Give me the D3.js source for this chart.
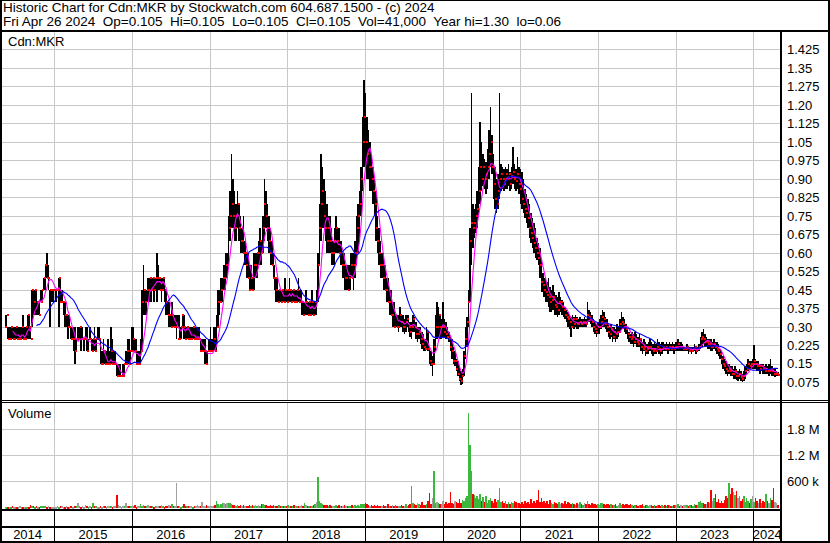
<!DOCTYPE html>
<html><head><meta charset="utf-8">
<script src="https://cdn.jsdelivr.net/npm/d3@7"></script>
<style>body{margin:0;background:#fff}svg{display:block}text{font-family:"Liberation Sans",Arial,sans-serif}</style>
</head><body><svg id="c" width="830" height="543"></svg>
<script>
// weekly highs / lows / closes, May 2014 .. Apr 26 2024
const highs=[
.35,.35,.30,.30,.30,.30,.30,.30,.30,.30,.30,.30,.35,.30,.30,.35,.35,.30,.45,.45,.45,.45,.40,.40,.45,.45,.50,.55,.60,.55,.45,.45,.45,
.45,.45,.45,.50,.50,.45,.40,.40,.35,.35,.35,.30,.30,.30,.30,.25,.30,.30,.30,.30,.25,.30,.30,.25,.30,.25,.25,.30,.25,.30,.30,.25,.20,.25,.20,.20,.25,.20,.30,.25,.20,.20,.15,.15,.15,.10,.15,.15,.20,.25,.25,.20,
.30,.30,.25,.25,.20,.20,.25,.45,.55,.45,.45,.50,.50,.50,.50,.50,.50,.60,.55,.50,.50,.50,.50,.45,.40,.40,.35,.40,.35,.35,.35,.35,.35,.30,.35,.35,.30,.30,.30,.30,.30,.30,.30,.30,.30,.30,.25,.25,.25,.25,.20,.20,.25,
.30,.25,.30,.30,.35,.45,.45,.50,.50,.55,.60,.60,.75,.85,1.0,.90,.85,.80,.85,.80,.75,.70,.75,.65,.60,.60,.55,.55,.50,.60,.60,.60,.65,.70,.65,.75,.90,.85,.80,.75,.70,.65,.60,.55,.50,.50,.45,.45,.45,.45,.50,
.45,.45,.50,.45,.45,.45,.45,.45,.50,.45,.45,.40,.40,.45,.40,.40,.40,.45,.40,.40,.45,.60,.80,1.0,.95,.90,.85,.80,.75,.75,.70,.65,.70,.75,.70,.70,.65,.65,.60,.60,.55,.55,.55,.60,.60,.60,.65,.75,.80,.85,.95,1.15,1.30,
1.25,1.15,1.10,1.05,1.00,.95,.90,.85,.75,.70,.65,.60,.60,.55,.50,.50,.45,.45,.40,.40,.35,.35,.35,.38,.35,.35,.33,.35,.35,.35,.32,.32,.35,.34,.32,.30,.30,.30,.28,.27,.25,.30,.28,.22,.20,.18,.25,.35,.40,.38,.35,.33,
.40,.33,.32,.30,.28,.26,.25,.22,.20,.17,.16,.14,.12,.13,.20,.30,.34,.45,.70,1.25,.80,.78,.80,.85,.95,1.13,1.05,1.00,.98,.97,1.02,1.10,1.19,1.08,1.00,.95,.90,.92,1.25,.96,.95,.94,.95,.94,.96,.93,.95,1.03,.96,.94,.99,.95,.94,
.93,.90,.86,.84,.82,.80,.76,.74,.72,.70,.66,.64,.62,.57,.52,.50,.50,.48,.50,.46,.45,.47,.44,.43,.42,.44,.42,.41,.40,.38,.37,.36,.35,.34,.35,.34,.35,.34,.33,.34,.33,.33,.34,.33,.40,.37,.36,.35,.33,.32,.31,.32,
.33,.35,.37,.36,.34,.33,.31,.30,.31,.30,.30,.29,.31,.30,.33,.36,.34,.33,.31,.29,.28,.27,.28,.27,.28,.27,.26,.27,.25,.24,.25,.24,.23,.24,.25,.24,.23,.24,.23,.25,.24,.23,.24,.24,.23,.24,.23,.24,.23,.24,.23,.24,
.24,.25,.24,.24,.23,.22,.22,.23,.22,.22,.22,.22,.23,.22,.22,.23,.26,.28,.29,.27,.26,.25,.25,.25,.24,.25,.24,.24,.23,.21,.20,.18,.17,.16,.15,.15,.14,.14,.13,.14,.13,.12,.13,.12,.11,.12,.14,.15,.17,.16,.16,.17,
.225,.17,.16,.16,.15,.15,.15,.14,.15,.14,.15,.17,.14,.13,.13,.12,.115];
const lows=[
.30,.30,.25,.25,.25,.25,.25,.25,.25,.25,.25,.25,.25,.25,.25,.25,.25,.25,.30,.35,.35,.35,.35,.35,.40,.40,.45,.45,.50,.45,.30,.40,.40,
.45,.40,.45,.30,.40,.40,.35,.30,.30,.25,.30,.25,.25,.20,.15,.20,.25,.25,.20,.25,.20,.25,.20,.20,.25,.20,.20,.20,.20,.25,.25,.15,.15,.15,.15,.15,.15,.15,.15,.15,.15,.15,.10,.10,.10,.10,.10,.10,.15,.15,.15,.15,
.20,.20,.20,.15,.15,.15,.15,.20,.35,.35,.35,.40,.40,.40,.45,.40,.45,.40,.45,.45,.40,.45,.40,.35,.35,.30,.30,.30,.30,.30,.25,.30,.25,.25,.30,.25,.25,.25,.25,.25,.25,.25,.25,.25,.25,.25,.20,.20,.20,.15,.15,.15,.20,
.20,.20,.20,.20,.20,.30,.35,.40,.40,.45,.45,.50,.55,.65,.70,.70,.65,.65,.70,.65,.60,.60,.60,.55,.50,.50,.45,.45,.45,.45,.50,.50,.55,.55,.55,.60,.65,.70,.65,.60,.55,.55,.50,.45,.40,.40,.40,.40,.40,.40,.40,
.40,.40,.40,.40,.40,.40,.40,.40,.40,.40,.35,.35,.35,.35,.35,.35,.35,.35,.35,.35,.35,.40,.55,.65,.70,.70,.65,.60,.60,.60,.55,.55,.55,.60,.60,.60,.55,.55,.50,.45,.45,.45,.45,.45,.50,.45,.50,.55,.60,.65,.75,.85,.95,
.95,.90,.90,.85,.85,.80,.75,.65,.60,.55,.50,.50,.45,.45,.40,.40,.35,.35,.30,.30,.30,.30,.28,.30,.30,.28,.27,.28,.30,.28,.26,.25,.28,.28,.25,.24,.25,.23,.21,.20,.20,.21,.20,.15,.14,.10,.15,.20,.25,.26,.25,.25,
.26,.26,.25,.25,.24,.20,.17,.15,.14,.12,.10,.08,.065,.07,.10,.17,.22,.30,.40,.55,.62,.66,.68,.70,.75,.80,.85,.87,.86,.84,.86,.90,.95,.92,.82,.78,.76,.78,.82,.85,.86,.85,.86,.86,.87,.85,.86,.88,.86,.85,.86,.84,.80,
.78,.76,.74,.72,.70,.66,.64,.62,.60,.58,.57,.55,.50,.44,.44,.42,.40,.40,.38,.36,.36,.37,.35,.35,.34,.35,.36,.35,.34,.33,.32,.30,.29,.26,.30,.29,.30,.29,.29,.30,.30,.30,.30,.30,.31,.32,.31,.30,.28,.27,.26,.27,
.27,.29,.30,.30,.29,.28,.26,.25,.26,.24,.25,.24,.25,.26,.28,.29,.29,.28,.27,.25,.24,.23,.23,.22,.23,.22,.22,.22,.20,.19,.20,.18,.19,.19,.20,.19,.18,.19,.19,.20,.19,.18,.19,.20,.20,.20,.19,.20,.20,.20,.19,.20,
.20,.20,.20,.20,.20,.20,.20,.20,.19,.20,.19,.20,.20,.19,.20,.20,.21,.22,.23,.22,.22,.21,.21,.20,.20,.21,.20,.19,.18,.17,.15,.13,.12,.11,.10,.11,.10,.10,.09,.09,.085,.08,.09,.08,.075,.08,.09,.11,.12,.13,.13,.13,
.13,.13,.12,.12,.11,.12,.11,.11,.11,.11,.10,.11,.10,.10,.095,.10,.10];
const closes=[
.30,.35,.25,.25,.30,.25,.25,.30,.25,.25,.25,.30,.25,.25,.30,.35,.30,.25,.45,.40,.45,.40,.40,.35,.40,.45,.50,.55,.50,.50,.45,.45,.45,
.45,.45,.45,.50,.40,.40,.40,.35,.35,.30,.30,.25,.25,.25,.20,.25,.25,.30,.25,.25,.25,.25,.20,.25,.25,.20,.25,.20,.25,.25,.25,.15,.15,.20,.15,.15,.15,.15,.20,.15,.15,.15,.10,.10,.10,.10,.10,.15,.15,.20,.15,.20,
.20,.25,.20,.15,.15,.15,.20,.40,.45,.40,.45,.45,.50,.45,.50,.45,.50,.50,.50,.45,.45,.50,.45,.40,.35,.35,.30,.35,.30,.30,.30,.25,.25,.30,.35,.30,.25,.30,.25,.25,.25,.30,.25,.25,.25,.25,.20,.20,.20,.20,.15,.20,.20,
.20,.20,.25,.20,.30,.40,.40,.45,.50,.50,.55,.55,.70,.75,.80,.75,.70,.75,.80,.70,.65,.65,.60,.60,.55,.50,.45,.50,.45,.55,.55,.60,.60,.65,.60,.70,.80,.75,.70,.65,.60,.55,.50,.50,.45,.40,.45,.40,.45,.40,.45,
.40,.45,.45,.40,.45,.40,.40,.45,.40,.40,.40,.35,.40,.40,.35,.40,.35,.40,.35,.40,.40,.55,.70,.80,.85,.75,.70,.65,.70,.65,.60,.60,.65,.70,.65,.60,.60,.55,.55,.50,.50,.45,.50,.55,.50,.55,.60,.70,.75,.80,.90,1.05,1.15,
1.05,1.00,.95,.95,.90,.85,.80,.70,.65,.60,.55,.55,.50,.45,.45,.40,.40,.35,.35,.30,.35,.30,.30,.35,.32,.30,.30,.32,.33,.30,.28,.30,.33,.30,.27,.27,.28,.25,.23,.22,.21,.28,.21,.16,.15,.15,.22,.30,.30,.35,.30,.30,
.30,.28,.27,.26,.25,.22,.20,.16,.16,.13,.11,.09,.08,.10,.18,.25,.32,.40,.65,.72,.70,.72,.75,.78,.85,.95,.90,.95,.90,.92,.95,1.00,1.05,.95,.88,.82,.80,.85,.90,.92,.90,.88,.92,.90,.92,.88,.91,.93,.90,.89,.92,.88,.86,
.82,.80,.78,.76,.74,.70,.68,.66,.64,.62,.60,.58,.55,.48,.47,.45,.44,.43,.42,.40,.41,.42,.39,.38,.37,.40,.40,.38,.37,.35,.34,.33,.32,.30,.33,.31,.33,.31,.31,.32,.31,.32,.32,.31,.35,.34,.33,.32,.30,.29,.28,.30,
.30,.32,.34,.33,.31,.30,.28,.27,.29,.26,.28,.27,.28,.28,.31,.32,.31,.30,.29,.27,.26,.25,.26,.24,.25,.24,.23,.25,.22,.21,.22,.20,.21,.22,.22,.21,.20,.21,.20,.22,.21,.20,.21,.22,.21,.22,.21,.22,.21,.22,.21,.22,
.22,.23,.22,.22,.21,.21,.21,.22,.20,.21,.20,.21,.22,.20,.21,.22,.25,.26,.25,.24,.24,.23,.23,.22,.22,.23,.22,.21,.20,.19,.17,.15,.14,.13,.12,.13,.12,.11,.11,.12,.10,.10,.11,.095,.09,.10,.12,.13,.15,.14,.15,.15,
.16,.15,.14,.14,.13,.14,.13,.12,.13,.12,.12,.13,.12,.11,.11,.11,.105];
// weekly volume, thousands of shares
const volumes=[
8,5,10,6,4,12,7,5,9,6,14,8,5,10,7,6,9,40,12,20,8,15,10,6,18,25,30,12,8,20,10,6,9,
6,10,15,8,22,12,5,9,14,7,11,18,9,6,30,12,100,15,8,20,10,35,12,7,18,9,100,14,25,10,6,12,8,20,15,9,30,12,18,10,22,14,285,40,16,10,25,12,100,18,30,12,
20,15,45,10,25,18,60,30,40,22,15,35,12,28,18,10,25,15,30,12,45,20,10,18,14,35,20,60,15,25,545,12,20,10,18,60,25,15,30,12,18,10,22,14,35,20,12,110,15,25,40,18,12,
20,30,15,45,130,60,40,80,100,90,70,100,85,100,60,50,45,30,55,25,40,20,35,15,30,18,40,25,50,20,35,28,45,22,60,80,55,40,30,25,35,20,45,18,30,15,40,22,25,18,30,
20,35,15,28,12,40,18,25,30,15,45,20,90,35,25,18,30,20,40,60,120,700,150,90,60,45,35,50,25,40,20,30,18,35,25,45,15,30,20,38,22,15,30,18,40,25,35,20,45,30,60,80,70,
90,60,45,30,50,25,40,20,35,18,30,22,45,25,15,70,30,20,40,25,35,18,28,15,40,22,30,80,25,45,60,490,100,70,50,90,60,40,120,55,45,80,150,330,60,200,840,100,120,90,60,80,
150,80,120,60,90,350,100,70,150,120,90,180,100,160,140,200,250,2180,1430,820,300,280,200,250,180,300,150,220,120,250,90,160,200,140,100,180,120,160,450,110,130,90,150,80,110,70,120,95,140,120,85,100,75,
110,80,150,95,120,70,180,100,140,90,160,400,120,200,110,150,90,130,80,170,100,60,120,90,75,110,60,95,80,140,70,120,85,60,100,75,50,90,65,110,70,55,85,60,130,75,50,90,60,80,45,70,
55,90,100,70,45,80,60,35,75,50,40,65,30,55,85,45,60,35,70,60,50,65,40,30,55,45,25,50,35,60,30,45,40,25,55,35,30,50,20,45,35,25,40,30,55,20,35,45,30,25,40,35,
40,60,30,45,25,50,35,40,30,55,40,25,60,35,45,120,150,100,90,80,60,120,90,400,150,200,300,120,180,90,140,100,160,250,200,560,300,450,350,280,380,200,250,150,180,250,120,200,150,100,180,250,
120,200,150,100,180,90,140,120,300,150,90,200,160,430,120,100,41];
const priceTicks=[0.075,0.15,0.225,0.30,0.375,0.45,0.525,0.60,0.675,0.75,0.825,0.90,0.975,1.05,1.125,1.20,1.275,1.35,1.425];
const priceLabels=["0.075","0.15","0.225","0.30","0.375","0.45","0.525","0.60","0.675","0.75","0.825","0.90","0.975","1.05","1.125","1.20","1.275","1.35","1.425"];
const volTicks=[600,1200,1800];
const volLabels=["600 k","1.2 M","1.8 M"];
const years=[2014,2015,2016,2017,2018,2019,2020,2021,2022,2023,2024];
const title1="Historic Chart for Cdn:MKR by Stockwatch.com 604.687.1500 - (c) 2024";
const title2="Fri Apr 26 2024  Op=0.105  Hi=0.105  Lo=0.105  Cl=0.105  Vol=41,000  Year hi=1.30  lo=0.06";

const svg=d3.select("#c");
const startDate=new Date(2014,3,26), endDate=new Date(2024,3,26);
const xs=d3.scaleTime().domain([startDate,endDate]).range([1,778]);
const yp=d3.scaleLinear().domain([0,1.5]).range([400.8,31]);
const yv=d3.scaleLinear().domain([0,2400]).range([507,403]);
const N=closes.length;
const dates=closes.map((_,i)=>d3.timeDay.offset(endDate,-7*(N-1-i)));
const data=closes.map((c,i)=>({d:dates[i],h:highs[i],l:lows[i],c:c,v:volumes[i],prev:i?closes[i-1]:c}));
const RIGHT=781;
const grid="#c8c8c8";
svg.append("rect").attr("width",830).attr("height",543).attr("fill","#fff");

// year boundaries
const bounds=years.slice(1).map(y=>new Date(y,0,1));
const gGrid=svg.append("g").attr("shape-rendering","crispEdges");
gGrid.selectAll(".vp").data(bounds).join("line")
 .attr("x1",d=>Math.round(xs(d))+0.5).attr("x2",d=>Math.round(xs(d))+0.5)
 .attr("y1",32).attr("y2",400).attr("stroke",grid);
gGrid.selectAll(".vv").data(bounds).join("line")
 .attr("x1",d=>Math.round(xs(d))+0.5).attr("x2",d=>Math.round(xs(d))+0.5)
 .attr("y1",403).attr("y2",509).attr("stroke",grid);
gGrid.selectAll(".hp").data(priceTicks).join("line")
 .attr("x1",2).attr("x2",RIGHT-1).attr("y1",d=>Math.round(yp(d))+0.5).attr("y2",d=>Math.round(yp(d))+0.5).attr("stroke",grid);
gGrid.selectAll(".hv").data(volTicks).join("line")
 .attr("x1",2).attr("x2",RIGHT-1).attr("y1",d=>Math.round(yv(d))+0.5).attr("y2",d=>Math.round(yv(d))+0.5).attr("stroke",grid);

// volume bars
const vColor=d=>d.c>d.prev?"#3cb83c":(d.c<d.prev?"#ff0000":"#a0a0a0");
svg.append("g").attr("shape-rendering","crispEdges").selectAll("rect").data(data).join("rect")
 .attr("x",d=>xs(d.d)-0.75).attr("width",1.5)
 .attr("y",d=>yv(d.v)).attr("height",d=>Math.max(1,yv(0)-yv(d.v))+1)
 .attr("fill",vColor);

// price bars
svg.append("g").attr("shape-rendering","crispEdges").selectAll("rect").data(data.filter(d=>d.h>d.l)).join("rect")
 .attr("x",d=>xs(d.d)-0.75).attr("width",1.5)
 .attr("y",d=>yp(d.h)).attr("height",d=>yp(d.l)-yp(d.h))
 .attr("fill","#000");
svg.append("g").attr("shape-rendering","crispEdges").selectAll("rect").data(data).join("rect")
 .attr("x",d=>xs(d.d)).attr("width",2)
 .attr("y",d=>yp(d.c)-1).attr("height",2)
 .attr("fill","#ff0000");

// moving averages
function sma(a,n){return a.map((_,i)=>i<n-1?null:d3.mean(a.slice(i-n+1,i+1)));}
const maShort=sma(closes,6), maLong=sma(closes,22);
const line=d3.line().defined(d=>d!=null).x((d,i)=>xs(dates[i])).y(d=>yp(d));
svg.append("path").attr("d",line(maShort)).attr("fill","none").attr("stroke","#ff00ff").attr("stroke-width",1.1);
svg.append("path").attr("d",line(maLong)).attr("fill","none").attr("stroke","#0000ff").attr("stroke-width",1.1);

// axes (labels)
const pa=svg.append("g").attr("transform",`translate(${RIGHT},0)`)
 .call(d3.axisRight(yp).tickValues(priceTicks).tickFormat((d,i)=>priceLabels[i]).tickSize(0).tickPadding(6));
pa.select(".domain").remove();
pa.selectAll("text").attr("font-size",13).attr("font-family","Liberation Sans, Arial, sans-serif").attr("fill","#000");
const va=svg.append("g").attr("transform",`translate(${RIGHT},0)`)
 .call(d3.axisRight(yv).tickValues(volTicks).tickFormat((d,i)=>volLabels[i]).tickSize(0).tickPadding(6));
va.select(".domain").remove();
va.selectAll("text").attr("font-size",13).attr("font-family","Liberation Sans, Arial, sans-serif").attr("fill","#000");

// x axis rows: dividers + year labels
const xa=svg.append("g").attr("transform","translate(0,509)")
 .call(d3.axisBottom(xs).tickValues(bounds).tickFormat("").tickSize(32).tickSizeOuter(0));
xa.select(".domain").remove();
xa.selectAll("line").attr("stroke","#000").attr("shape-rendering","crispEdges");
const yearCenters=years.map(y=>{
 const a=Math.max(1,xs(new Date(y,0,1))), b=Math.min(RIGHT,xs(new Date(y+1,0,1)));
 return {y:y,x:(a+b)/2};
});
svg.append("g").selectAll("text").data(yearCenters).join("text")
 .attr("x",d=>d.x).attr("y",539).attr("text-anchor","middle").attr("font-size",13).attr("fill","#000").text(d=>d.y);

// texts
svg.append("text").attr("x",3).attr("y",11.5).attr("font-size",13.5).style("white-space","pre").text(title1);
svg.append("text").attr("x",3).attr("y",25.5).attr("font-size",13.5).style("white-space","pre").text(title2);
svg.append("text").attr("x",8).attr("y",46).attr("font-size",13).text("Cdn:MKR");
svg.append("text").attr("x",8).attr("y",418).attr("font-size",13).text("Volume");

// frame lines
const fr=svg.append("g").attr("fill","#000").attr("shape-rendering","crispEdges");
[[0,0,830,1],[0,0,2,543],[828,0,2,543],[0,541,830,2],[0,30,830,2],[780,30,2,513],
 [0,400,830,1],[0,402,830,1],[0,509,781,2],[0,526,781,2]].forEach(r=>
 fr.append("rect").attr("x",r[0]).attr("y",r[1]).attr("width",r[2]).attr("height",r[3]));
</script></body></html>
